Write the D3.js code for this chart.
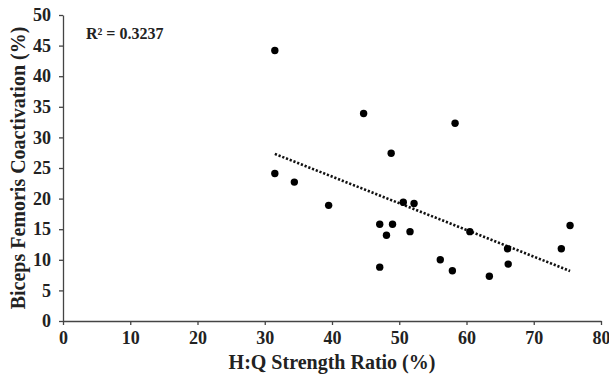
<!DOCTYPE html>
<html>
<head>
<meta charset="utf-8">
<script src="https://cdn.jsdelivr.net/npm/d3@7"></script>
<style>
  body { margin: 0; background: #fff; }
  text { font-family: "Liberation Serif", "Times New Roman", serif; font-weight: bold; fill: #222; }
  .axis path, .axis line { stroke: #444; stroke-width: 1.3; }
</style>
</head>
<body>
<div id="chart"></div>
<script>
// H:Q ratio (%) vs biceps femoris coactivation (%)
var hqRatio = [31.5, 31.5, 34.4, 39.5, 44.7, 47.1, 47.1, 48.1, 48.8, 49.0,
               50.6, 51.6, 52.2, 56.1, 57.9, 58.3, 60.5, 63.4, 66.1, 66.2,
               74.1, 75.4];
var coactivation = [44.2, 24.1, 22.7, 18.9, 33.9, 15.8, 8.8, 14.0, 27.4, 15.8,
                    19.4, 14.6, 19.2, 10.0, 8.2, 32.3, 14.6, 7.3, 11.8, 9.3,
                    11.8, 15.6];
var xTicks = [0, 10, 20, 30, 40, 50, 60, 70, 80];
var yTicks = [0, 5, 10, 15, 20, 25, 30, 35, 40, 45, 50];
var r2Label = "R\u00b2 = 0.3237";

var width = 609, height = 374;
var margin = {top: 15, right: 8, bottom: 53, left: 63};

var svg = d3.select("#chart").append("svg")
    .attr("width", width)
    .attr("height", height);

var x = d3.scaleLinear().domain([0, 80]).range([margin.left, width - margin.right]);
var y = d3.scaleLinear().domain([0, 50]).range([height - margin.bottom, margin.top]);

svg.append("g")
    .attr("class", "axis x")
    .attr("transform", "translate(0," + y(0) + ")")
    .call(d3.axisBottom(x).tickValues(xTicks).tickSize(4).tickSizeOuter(0).tickPadding(6));

svg.append("g")
    .attr("class", "axis y")
    .attr("transform", "translate(" + x(0) + ",0)")
    .call(d3.axisLeft(y).tickValues(yTicks).tickSize(4).tickSizeOuter(0).tickPadding(8));

svg.selectAll(".axis")
    .attr("font-family", "'Liberation Serif', serif")
    .attr("font-size", 18)
    .attr("font-weight", "bold");
svg.selectAll(".axis text").attr("fill", "#222");

// least squares trend line
var mx = d3.mean(hqRatio), my = d3.mean(coactivation);
var sxy = d3.sum(hqRatio, function(d, i) { return (d - mx) * (coactivation[i] - my); });
var sxx = d3.sum(hqRatio, function(d) { return (d - mx) * (d - mx); });
var slope = sxy / sxx, intercept = my - slope * mx;
var ext = d3.extent(hqRatio);

svg.append("line")
    .attr("x1", x(ext[0])).attr("y1", y(intercept + slope * ext[0]))
    .attr("x2", x(ext[1])).attr("y2", y(intercept + slope * ext[1]))
    .attr("stroke", "#111")
    .attr("stroke-width", 2.6)
    .attr("stroke-dasharray", "2.2,1.8");

svg.selectAll("circle.pt")
    .data(hqRatio)
  .enter().append("circle")
    .attr("class", "pt")
    .attr("cx", function(d) { return x(d); })
    .attr("cy", function(d, i) { return y(coactivation[i]); })
    .attr("r", 3.7)
    .attr("fill", "#000");

svg.append("text")
    .attr("x", 86)
    .attr("y", 39)
    .style("font-size", "16px")
    .text(r2Label);

svg.append("text")
    .attr("x", 332)
    .attr("y", 369)
    .attr("text-anchor", "middle")
    .style("font-size", "20px")
    .text("H:Q Strength Ratio (%)");

svg.append("text")
    .attr("transform", "translate(25," + ((y(0) + y(50)) / 2) + ") rotate(-90)")
    .attr("text-anchor", "middle")
    .style("font-size", "20px")
    .text("Biceps Femoris Coactivation (%)");
</script>
</body>
</html>
